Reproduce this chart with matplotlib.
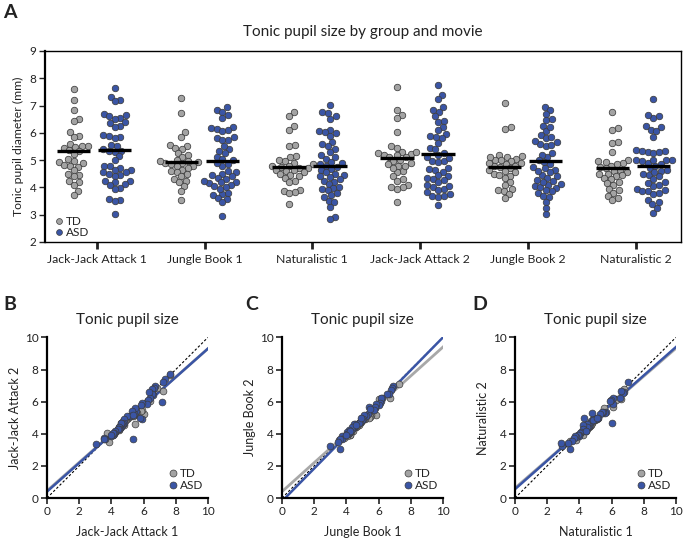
import numpy as np
import matplotlib
matplotlib.use("Agg")
import matplotlib.pyplot as plt
from matplotlib.lines import Line2D

# --- categories ---
movies = ['Jack-Jack Attack 1', 'Jungle Book 1', 'Naturalistic 1',
          'Jack-Jack Attack 2', 'Jungle Book 2', 'Naturalistic 2']
groups = ['TD', 'ASD']

# --- tonic pupil diameter (mm), one entry per subject ---
jj1_td = [7.62, 7.20, 6.82, 6.50, 6.42, 6.02, 5.90, 5.85, 5.60, 5.52, 5.50, 5.48, 5.45, 5.38, 5.32, 5.22,
          5.05, 4.97, 4.92, 4.88, 4.82, 4.80, 4.75, 4.62, 4.50, 4.45, 4.40, 4.25, 4.18, 4.10, 3.88, 3.72]
jj2_td = [7.68, 6.65, 6.84, 6.55, 6.02, 5.22, 5.50, 5.45, 5.30, 5.30, 5.25, 5.20, 4.60, 5.20, 5.10, 5.10,
          5.00, 4.95, 4.90, 4.85, 4.80, 4.55, 4.80, 4.70, 4.40, 4.25, 4.30, 4.10, 4.00, 3.95, 3.48, 4.02]
jj1_asd = [7.66, 7.32, 7.20, 7.15, 6.70, 6.66, 6.60, 6.55, 6.50, 6.40, 6.35, 6.25, 6.20, 5.92, 5.88, 5.85,
           5.80, 5.55, 5.50, 5.42, 5.35, 5.30, 5.15, 5.00, 4.80, 4.78, 4.72, 4.65, 4.62, 4.58, 4.55, 4.50,
           4.45, 4.42, 4.25, 4.22, 4.18, 4.12, 4.08, 3.98, 3.95, 3.58, 3.55, 3.52, 3.02, 5.32]
jj2_asd = [7.75, 7.40, 7.25, 5.95, 6.95, 6.85, 6.40, 6.78, 6.45, 6.20, 6.60, 6.10, 5.85, 5.90, 4.95, 5.80,
           4.98, 5.45, 5.63, 5.26, 3.70, 5.40, 5.10, 5.08, 4.93, 4.70, 4.64, 4.55, 4.40, 4.66, 4.35, 4.45,
           4.27, 4.30, 4.10, 4.20, 4.02, 3.95, 4.05, 3.84, 3.90, 3.65, 3.75, 3.68, 3.36, 5.20]

jb1_td = [7.27, 6.74, 6.04, 5.86, 5.55, 5.50, 5.45, 5.40, 5.25, 5.18, 5.12, 5.00, 4.95, 4.92, 4.90, 4.88,
          4.85, 4.80, 4.78, 4.72, 4.65, 4.60, 4.55, 4.50, 4.42, 4.30, 4.25, 4.20, 4.05, 3.85, 3.55, 4.98]
jb2_td = [7.08, 6.20, 6.15, 5.20, 5.15, 5.10, 5.05, 5.00, 5.12, 4.95, 4.90, 4.85, 5.00, 4.80, 4.75, 4.78,
          4.70, 4.65, 4.55, 4.60, 4.50, 4.42, 4.45, 4.35, 4.20, 4.10, 3.95, 3.90, 3.85, 3.75, 3.60, 4.88]
jb1_asd = [6.93, 6.85, 6.78, 6.65, 6.55, 6.20, 6.18, 6.15, 6.10, 6.05, 5.85, 5.80, 5.75, 5.72, 5.40, 5.35,
           5.25, 5.12, 5.05, 5.00, 4.85, 4.80, 4.55, 4.50, 4.45, 4.40, 4.35, 4.32, 4.20, 4.18, 4.15, 4.10,
           4.05, 4.02, 3.80, 3.75, 3.72, 3.60, 3.58, 3.45, 2.97, 5.50, 4.90, 4.60, 4.25, 3.95]
jb2_asd = [6.95, 6.84, 6.70, 6.47, 6.50, 6.25, 6.05, 6.20, 5.92, 5.80, 5.85, 5.60, 5.70, 5.50, 5.65, 5.26,
           5.12, 5.20, 4.93, 4.85, 4.75, 4.70, 4.64, 4.45, 4.60, 4.35, 4.27, 4.40, 4.10, 4.25, 4.05, 3.98,
           4.12, 4.00, 3.80, 3.85, 3.65, 3.70, 3.03, 3.47, 3.25, 5.55, 5.00, 4.55, 4.20, 3.90]

nat1_td = [6.75, 6.62, 6.25, 6.12, 5.55, 5.50, 5.15, 5.10, 5.00, 4.95, 4.90, 4.85, 4.80, 4.78, 4.75, 4.72,
           4.70, 4.65, 4.60, 4.55, 4.50, 4.45, 4.40, 4.35, 4.25, 4.20, 3.92, 3.88, 3.82, 3.78, 3.40, 4.62]
nat2_td = [6.76, 6.18, 6.10, 5.68, 5.63, 5.31, 5.00, 4.95, 4.90, 4.85, 4.92, 4.80, 4.75, 4.70, 4.65, 4.60,
           4.55, 4.50, 4.45, 4.40, 4.35, 4.30, 4.20, 4.15, 4.10, 3.95, 3.90, 3.80, 3.70, 3.62, 3.55, 4.48]
nat1_asd = [7.02, 6.78, 6.72, 6.60, 6.52, 6.12, 6.08, 6.02, 5.98, 5.90, 5.65, 5.58, 5.50, 5.40, 5.30, 5.18,
            5.05, 4.92, 4.85, 4.80, 4.75, 4.68, 4.62, 4.55, 4.50, 4.45, 4.38, 4.30, 4.25, 4.20, 4.12, 4.02,
            3.98, 3.95, 3.90, 3.78, 3.72, 3.65, 3.52, 3.45, 3.30, 2.93, 2.83, 4.88, 4.40, 5.10]
nat2_asd = [7.23, 6.60, 6.55, 6.65, 6.25, 6.20, 5.86, 4.70, 6.10, 6.05, 5.37, 5.30, 5.35, 5.33, 5.26, 5.00,
            4.95, 5.00, 4.90, 5.30, 4.80, 4.65, 4.50, 4.45, 4.60, 4.40, 4.20, 5.00, 4.55, 4.30, 4.10, 4.05,
            3.90, 3.85, 3.95, 3.80, 3.85, 3.75, 3.55, 3.07, 3.45, 3.25, 3.40, 4.85, 4.15, 5.00]

# group means shown as black bars in panel A
td_means = [5.32, 4.92, 4.73, 5.08, 4.75, 4.71]
asd_means = [5.38, 4.98, 4.80, 5.23, 4.95, 4.79]

# regression lines in B, C, D (intercept, slope)
fit_td_int = [0.45, 0.40, 0.62]
fit_td_slope = [0.885, 0.90, 0.87]
fit_asd_int = [0.40, -0.20, 0.55]
fit_asd_slope = [0.89, 1.02, 0.885]

GRAY = '#a3a3a3'
BLUE = '#3a55a5'
EDGE = '#3c3c3c'
TXT = '#222222'

plt.rcParams['font.family'] = ['Lato', 'DejaVu Sans']
plt.rcParams['text.color'] = TXT
plt.rcParams['axes.labelcolor'] = TXT
plt.rcParams['xtick.color'] = TXT
plt.rcParams['ytick.color'] = TXT


def beeswarm(values, d, sx, sy):
    # simple swarm layout: d = collision diameter in px, sx/sy = px per data unit
    ys = np.asarray(values) * sy
    xs = np.zeros(len(ys))
    placed = []
    for i in np.argsort(ys):
        y = ys[i]
        near = [(px, py) for px, py in placed if abs(py - y) < d]
        cands = [0.0]
        for px, py in near:
            dx = np.sqrt(d ** 2 - (py - y) ** 2)
            cands += [px + dx, px - dx]
        cands.sort(key=abs)
        for c in cands:
            if all((c - px) ** 2 + (y - py) ** 2 >= d ** 2 - 1e-6 for px, py in near):
                xs[i] = c
                break
        placed.append((xs[i], y))
    return xs / sx


fig = plt.figure(figsize=(6.86, 5.45), dpi=100)

# --- Panel A: swarm ---
td_sets = [jj1_td, jb1_td, nat1_td, jj2_td, jb2_td, nat2_td]
asd_sets = [jj1_asd, jb1_asd, nat1_asd, jj2_asd, jb2_asd, nat2_asd]

axA = fig.add_axes([0.0656, 0.556, 0.927, 0.3505])
axA.set_xlim(-0.455, 5.445)
axA.set_ylim(2, 9)
p0 = axA.transData.transform((0, 0))
p1 = axA.transData.transform((1, 1))
sx, sy = p1 - p0

off = 0.19
for i in range(len(movies)):
    for vals, col, dx in [(td_sets[i], GRAY, -off), (asd_sets[i], BLUE, off)]:
        xo = beeswarm(vals, 6.0, sx, sy)
        axA.scatter(i + dx + xo, vals, s=22, c=col, edgecolors=EDGE, linewidths=0.55, zorder=3)
    axA.hlines(td_means[i], i - off - 0.155, i - off + 0.155, color='black', lw=2.4, zorder=5)
    axA.hlines(asd_means[i], i + off - 0.155, i + off + 0.155, color='black', lw=2.4, zorder=5)

axA.set_yticks(range(2, 10))
axA.set_xticks(np.arange(len(movies)) + 0.025)
axA.set_xticklabels(movies, fontsize=8.8)
axA.tick_params(axis='y', labelsize=8.5, length=4, width=1.0, pad=2)
axA.tick_params(axis='x', length=5, width=2.0, pad=4)
axA.set_ylabel('Tonic pupil diameter (mm)', fontsize=8.8, labelpad=4)
axA.set_title('Tonic pupil size by group and movie', fontsize=11, pad=11)
for side in ['top', 'right', 'bottom']:
    axA.spines[side].set_linewidth(1.0)
axA.spines['left'].set_linewidth(1.6)

legA = [Line2D([], [], ls='none', marker='o', ms=4.2, mfc=GRAY, mec=EDGE, mew=0.5, label='TD'),
        Line2D([], [], ls='none', marker='o', ms=4.2, mfc=BLUE, mec=EDGE, mew=0.5, label='ASD')]
axA.legend(handles=legA, loc='lower left', bbox_to_anchor=(0.012, 0.0), frameon=False, fontsize=8.5,
           handlelength=0.5, handletextpad=0.35, labelspacing=0.05, borderpad=0.2, borderaxespad=0.1)

fig.text(0.005, 0.977, 'A', fontsize=14, fontweight='bold', va='center')

# --- Panels B, C, D: movie 1 vs movie 2 ---
pairs = [(jj1_td, jj2_td, jj1_asd, jj2_asd, 'Jack-Jack Attack 1', 'Jack-Jack Attack 2'),
         (jb1_td, jb2_td, jb1_asd, jb2_asd, 'Jungle Book 1', 'Jungle Book 2'),
         (nat1_td, nat2_td, nat1_asd, nat2_asd, 'Naturalistic 1', 'Naturalistic 2')]
lefts = [0.0685, 0.4111, 0.7507]
letters = ['B', 'C', 'D']
letter_x = [0.005, 0.358, 0.688]
line = np.array([0, 10])

for k, (xt, yt, xa, ya, xl, yl) in enumerate(pairs):
    ax = fig.add_axes([lefts[k], 0.0862, 0.2345, 0.2946])
    ax.plot(line, line, ls=(0, (2.2, 1.8)), color='black', lw=0.8, zorder=1)
    ax.plot(line, fit_td_int[k] + fit_td_slope[k] * line, color='#a8a8a8', lw=2.0, zorder=2)
    ax.plot(line, fit_asd_int[k] + fit_asd_slope[k] * line, color=BLUE, lw=1.8, zorder=2.5)
    ax.scatter(xt, yt, s=24, c=GRAY, edgecolors=EDGE, linewidths=0.5, zorder=3)
    ax.scatter(xa, ya, s=24, c=BLUE, edgecolors=EDGE, linewidths=0.5, zorder=4)
    ax.set_xlim(0, 10)
    ax.set_ylim(0, 10)
    ax.set_xticks(range(0, 11, 2))
    ax.set_yticks(range(0, 11, 2))
    ax.tick_params(labelsize=8.5, length=4, width=1.2, pad=2)
    ax.spines['top'].set_visible(False)
    ax.spines['right'].set_visible(False)
    ax.spines['left'].set_linewidth(1.6)
    ax.spines['bottom'].set_linewidth(1.6)
    ax.set_xlabel(xl, fontsize=9, labelpad=6)
    ax.set_ylabel(yl, fontsize=9, labelpad=3)
    ax.set_title('Tonic pupil size', fontsize=11, pad=10)
    leg = [Line2D([], [], ls='none', marker='o', ms=5, mfc=GRAY, mec=EDGE, mew=0.5, label='TD'),
           Line2D([], [], ls='none', marker='o', ms=5, mfc=BLUE, mec=EDGE, mew=0.5, label='ASD')]
    ax.legend(handles=leg, loc='lower right', bbox_to_anchor=(0.985, 0.03), frameon=False, fontsize=8.5,
              handlelength=0.5, handletextpad=0.35, labelspacing=0.05, borderpad=0.1, borderaxespad=0.1)
    fig.text(letter_x[k], 0.441, letters[k], fontsize=14, fontweight='bold', va='center')

fig.savefig('out.png', dpi=100)
